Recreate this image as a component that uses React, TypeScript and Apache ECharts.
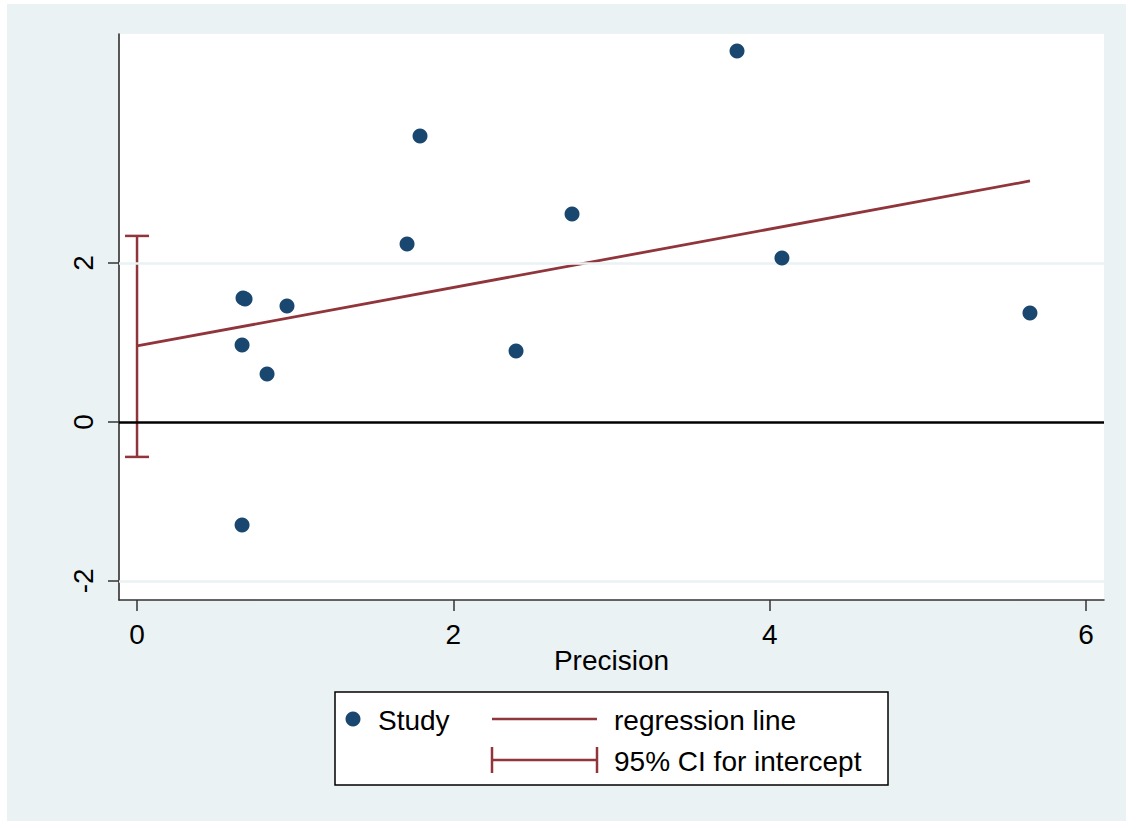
import React, { useEffect, useRef } from "react";
import * as echarts from "echarts";

// Study points: precision (x) vs standardized effect (y)
const precision = [3.793, 1.789, 2.75, 1.707, 4.077, 0.67, 0.683, 0.948, 5.645, 0.664, 2.396, 0.822, 0.664];
const stdEffect = [4.667, 3.597, 2.616, 2.239, 2.063, 1.56, 1.547, 1.459, 1.371, 0.969, 0.893, 0.604, -1.296];

// Fitted regression line endpoints (x = 0 and the largest precision)
const regX = [0, 5.645];
const regY = [0.956, 3.031];

// 95% CI for the intercept
const ciLow = -0.44;
const ciHigh = 2.34;

const xTicks = [0, 2, 4, 6];
const yTicks = [-2, 0, 2];
const gridValues = [-2, 2];

const FONT = "'Liberation Sans', Arial, Helvetica, sans-serif";
const NAVY = "#1A476F";
const MAROON = "#90353B";
const BG = "#EAF2F3";

export default function App() {
  const ref = useRef<HTMLDivElement>(null);

  useEffect(() => {
    document.body.style.margin = "0";
    const chart = echarts.init(ref.current!, null, { renderer: "svg" });

    const points = precision.map((x, i) => [x, stdEffect[i]]);
    const reg = regX.map((x, i) => [x, regY[i]]);

    chart.setOption({
      animation: false,
      textStyle: { fontFamily: FONT },
      grid: {
        left: 119,
        top: 34,
        right: 22,
        bottom: 221,
        show: true,
        backgroundColor: "#ffffff",
        borderWidth: 0,
      },
      xAxis: {
        type: "value",
        min: -0.114,
        max: 6.113,
        name: "Precision",
        nameLocation: "middle",
        nameGap: 46,
        nameMoveOverlap: false,
        nameTextStyle: { fontSize: 28, color: "#000", fontFamily: FONT },
        axisLine: { show: true, onZero: false, lineStyle: { color: "#333", width: 1.5 } },
        axisTick: { show: true, customValues: xTicks, length: 11, lineStyle: { color: "#333", width: 1.5 } },
        axisLabel: { customValues: xTicks, fontSize: 28, color: "#000", margin: 20, fontFamily: FONT },
        splitLine: { show: false },
      },
      yAxis: {
        type: "value",
        min: -2.24,
        max: 4.88,
        axisLine: { show: true, onZero: false, lineStyle: { color: "#222", width: 1.5 } },
        axisTick: { show: true, customValues: yTicks, length: 11, lineStyle: { color: "#333", width: 1.5 } },
        axisLabel: { customValues: yTicks, fontSize: 28, color: "#000", margin: 22, rotate: 90, fontFamily: FONT },
        splitLine: { show: false },
      },
      graphic: [
        {
          type: "rect",
          z: -10,
          silent: true,
          shape: { x: 7, y: 4, width: 1119, height: 817 },
          style: { fill: BG },
        },
        {
          type: "group",
          z: 100,
          children: [
            {
              type: "rect",
              shape: { x: 335, y: 692, width: 553, height: 93 },
              style: { fill: "#ffffff", stroke: "#000", lineWidth: 1.5 },
            },
            { type: "circle", shape: { cx: 353, cy: 719, r: 7.5 }, style: { fill: NAVY } },
            {
              type: "text",
              x: 378,
              y: 720,
              style: { text: "Study", font: `28px ${FONT}`, fill: "#000", verticalAlign: "middle" },
            },
            {
              type: "line",
              shape: { x1: 492, y1: 719, x2: 597, y2: 719 },
              style: { stroke: MAROON, lineWidth: 2.5 },
            },
            {
              type: "text",
              x: 614,
              y: 720,
              style: { text: "regression line", font: `28px ${FONT}`, fill: "#000", verticalAlign: "middle" },
            },
            {
              type: "line",
              shape: { x1: 492, y1: 760, x2: 597, y2: 760 },
              style: { stroke: MAROON, lineWidth: 2.5 },
            },
            {
              type: "line",
              shape: { x1: 492, y1: 747, x2: 492, y2: 773 },
              style: { stroke: MAROON, lineWidth: 2.5 },
            },
            {
              type: "line",
              shape: { x1: 597, y1: 747, x2: 597, y2: 773 },
              style: { stroke: MAROON, lineWidth: 2.5 },
            },
            {
              type: "text",
              x: 614,
              y: 761,
              style: { text: "95% CI for intercept", font: `28px ${FONT}`, fill: "#000", verticalAlign: "middle" },
            },
          ],
        },
      ],
      series: [
        {
          // light horizontal grid lines and the black zero reference line
          type: "line",
          data: [],
          silent: true,
          z: 1,
          markLine: {
            silent: true,
            symbol: "none",
            label: { show: false },
            data: [
              ...gridValues.map((v) => ({ yAxis: v, lineStyle: { color: BG, width: 2.5, type: "solid" } })),
              { yAxis: 0, lineStyle: { color: "#000", width: 2.5, type: "solid" } },
            ],
          },
        },
        {
          // vertical 95% CI bar for the intercept, with end caps
          type: "custom",
          z: 3,
          silent: true,
          data: [[0, ciLow, ciHigh]],
          renderItem: (params: any, api: any) => {
            const x = api.value(0);
            const lo = api.coord([x, api.value(1)]);
            const hi = api.coord([x, api.value(2)]);
            const cap = 12;
            const style = { stroke: MAROON, lineWidth: 2.5 };
            return {
              type: "group",
              children: [
                { type: "line", shape: { x1: lo[0], y1: lo[1], x2: hi[0], y2: hi[1] }, style },
                { type: "line", shape: { x1: lo[0] - cap, y1: lo[1], x2: lo[0] + cap, y2: lo[1] }, style },
                { type: "line", shape: { x1: hi[0] - cap, y1: hi[1], x2: hi[0] + cap, y2: hi[1] }, style },
              ],
            };
          },
        },
        {
          type: "line",
          name: "regression line",
          data: reg,
          z: 4,
          symbol: "none",
          lineStyle: { color: MAROON, width: 2.8 },
        },
        {
          type: "scatter",
          name: "Study",
          data: points,
          z: 5,
          symbol: "circle",
          symbolSize: 15,
          itemStyle: { color: NAVY, opacity: 1 },
        },
      ],
    });

    return () => chart.dispose();
  }, []);

  return <div ref={ref} style={{ width: 1126, height: 821 }} />;
}
